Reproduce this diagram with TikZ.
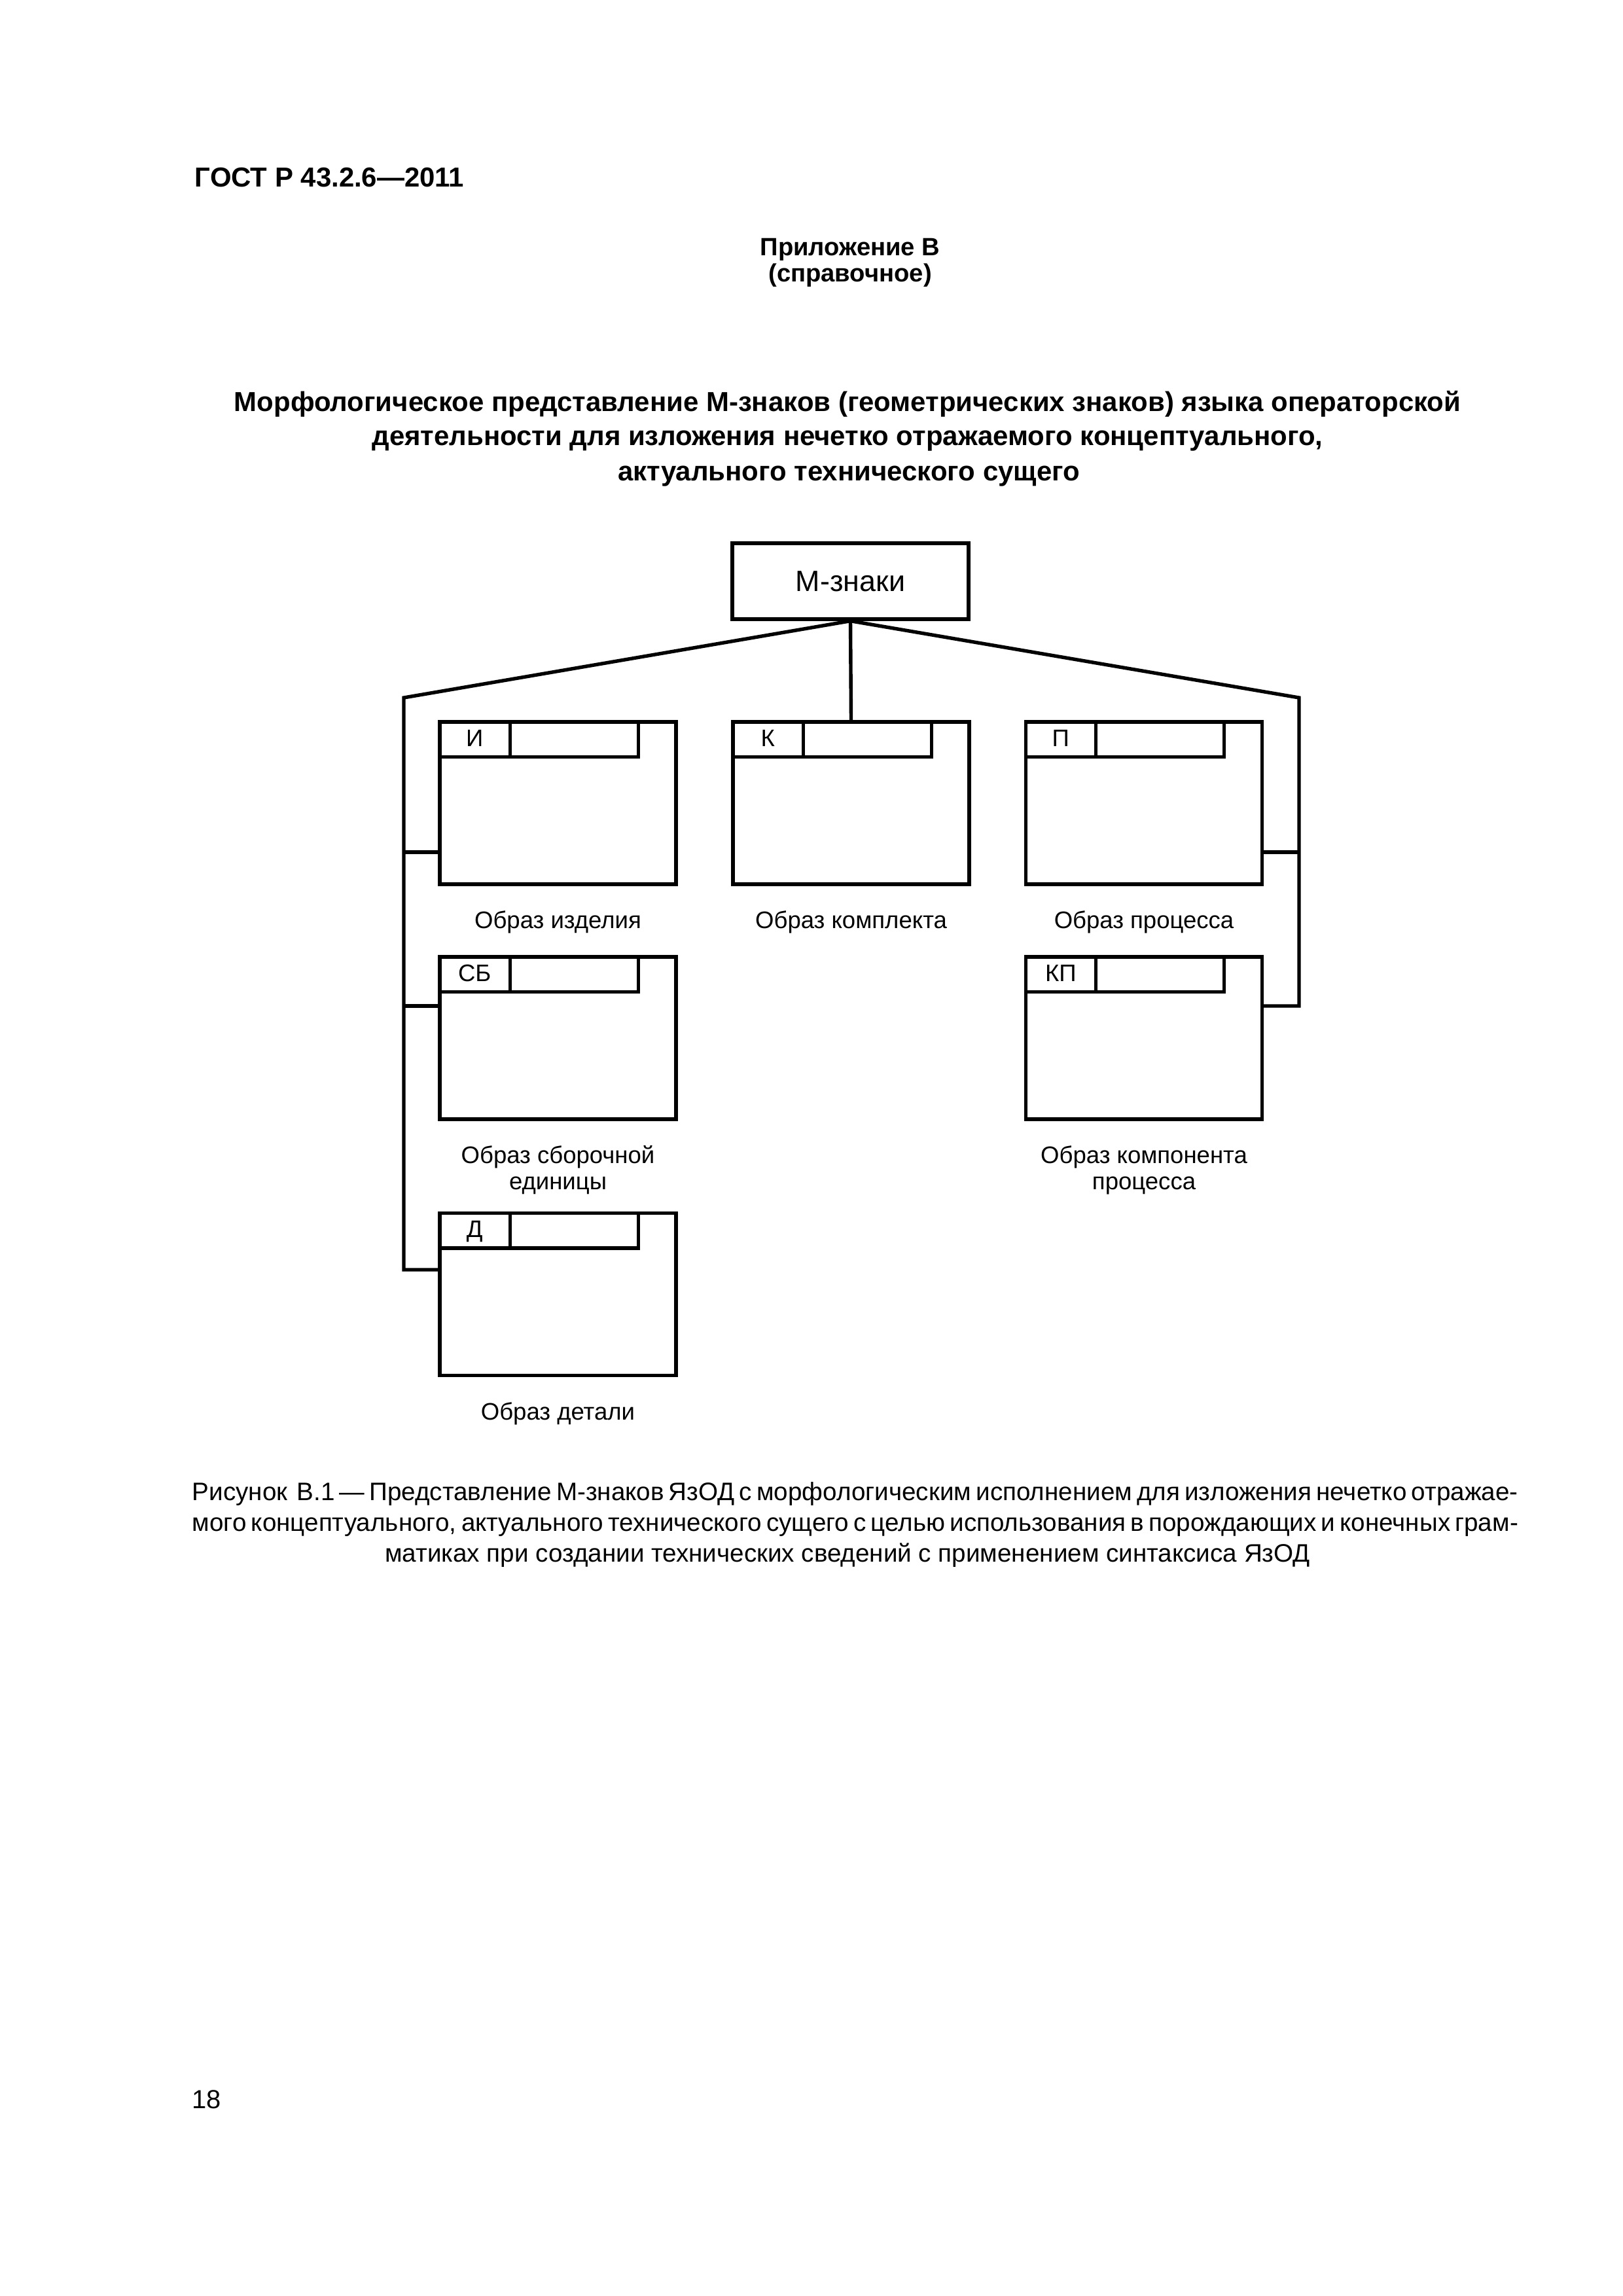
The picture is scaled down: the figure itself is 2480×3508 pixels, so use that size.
\documentclass[tikz,border=0pt]{standalone}
\usepackage{fontspec}
\setmainfont{Liberation Sans}
\usetikzlibrary{positioning}
\tikzset{
  conn/.style={line width=1.3pt},
  sign/.style={draw,line width=1.3pt,minimum width=30.57mm,minimum height=21mm,inner sep=0pt},
  root/.style={draw,line width=1.3pt,minimum width=30.57mm,minimum height=9.82mm,inner sep=0pt,font=\fontsize{10.8}{12}\selectfont},
  tag/.style={anchor=base,inner sep=0pt,font=\fontsize{8.8}{10}\selectfont},
  lbl/.style={anchor=base,inner sep=0pt,align=center,font=\fontsize{8.8}{9.6}\selectfont},
  head/.style={anchor=base,inner sep=0pt,font=\bfseries\fontsize{10.1}{12}\selectfont},
  body/.style={anchor=base,inner sep=0pt,font=\fontsize{9.3}{11}\selectfont}
}
\newcommand{\msign}[3]{%
  \node[sign] (#1) at (#2) {};
  \draw[conn] ([shift={(0,56)}]#1.north west) -| ([shift={(306,0)}]#1.north west);
  \draw[conn] ([shift={(110,0)}]#1.north west) -- ([shift={(110,56)}]#1.north west);
  \node[tag] (#1-tag) at ([shift={(56,40)}]#1.north west) {#3};
}

\begin{document}
\begin{tikzpicture}[x=0.084677mm,y=-0.084677mm]
    \useasboundingbox (0,0) rectangle (2480,3508);
    \node[head,anchor=base west] (gost) at (297,285) {ГОСТ Р 43.2.6—2011};
    \node[head,font=\bfseries\fontsize{9.2}{11}\selectfont] (app) at (1299,390) {Приложение В};
    \node[head,font=\bfseries\fontsize{9.2}{11}\selectfont] (ref) at (1299,430) {(справочное)};
    \node[head] (t1) at (1295,628) {Морфологическое представление М-знаков (геометрических знаков) языка операторской};
    \node[head] (t2) at (1295,680) {деятельности для изложения нечетко отражаемого концептуального,};
    \node[head] (t3) at (1297,734) {актуального технического сущего};

    \node[root] (m) at (1299.5,888) {М-знаки};
    \msign{i}{852.5,1227}{И}
    \msign{k}{1300.5,1227}{К}
    \msign{p}{1748,1227}{П}
    \msign{sb}{852.5,1586}{СБ}
    \msign{kp}{1748,1586}{КП}
    \msign{d}{852.5,1977.5}{Д}
    \node[lbl] (i-lbl) at (852.5,1418) {Образ изделия};
    \node[lbl] (k-lbl) at (1300.5,1418) {Образ комплекта};
    \node[lbl] (p-lbl) at (1748,1418) {Образ процесса};
    \node[lbl] (sb-lbl) at (852.5,1817) {Образ сборочной\\единицы};
    \node[lbl] (kp-lbl) at (1748,1817) {Образ компонента\\процесса};
    \node[lbl] (d-lbl) at (852.5,2169) {Образ детали};

    \coordinate (lt) at (617,1066);
    \coordinate (rt) at (1985,1066);
    \coordinate (i-in) at (672,1302);
    \coordinate (sb-in) at (672,1537);
    \coordinate (d-in) at (672,1940);
    \coordinate (p-in) at (1929,1302);
    \coordinate (kp-in) at (1929,1537);
    \draw[conn] (m.south) -- (k.north);
    \draw[conn] (m.south) -- (lt) |- (d-in);
    \draw[conn] (lt |- i-in) -- (i-in);
    \draw[conn] (lt |- sb-in) -- (sb-in);
    \draw[conn] (m.south) -- (rt) |- (kp-in);
    \draw[conn] (rt |- p-in) -- (p-in);

    \node[body,anchor=base west] (c1) at (293,2292) {\makebox[169.69mm][s]{Рисунок\ \ В.1 — Представление М-знаков ЯзОД с морфологическим исполнением для изложения нечетко отражае-}};
    \node[body,anchor=base west] (c2) at (293,2339) {\makebox[169.69mm][s]{мого концептуального, актуального технического сущего с целью использования в порождающих и конечных грам-}};
    \node[body] (c3) at (1295,2386) {матиках при создании технических сведений с применением синтаксиса ЯзОД};
    \node[body,anchor=base west,font=\fontsize{9.6}{11}\selectfont] (pg) at (293,3221) {18};
\end{tikzpicture}
\end{document}
